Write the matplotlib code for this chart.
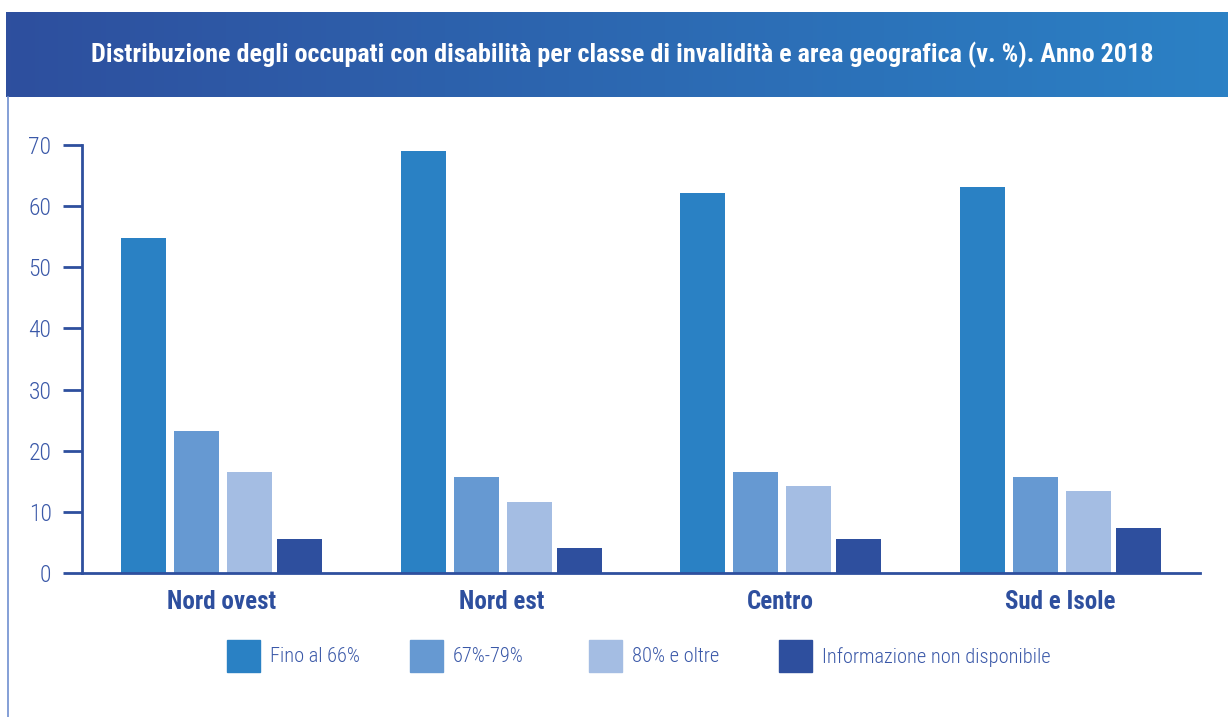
import numpy as np
import matplotlib
matplotlib.use("Agg")
from matplotlib import pyplot as plt
from matplotlib import font_manager
from matplotlib.patches import Rectangle
from matplotlib.lines import Line2D

# pick a narrow sans if the machine has one
font = "Liberation Sans"
for name in ["Roboto Condensed", "Liberation Sans Narrow", "Liberation Sans"]:
    try:
        font_manager.findfont(name, fallback_to_default=False)
        font = name
        break
    except ValueError:
        pass
plt.rcParams['font.family'] = [font, 'DejaVu Sans']

aree = ["Nord ovest", "Nord est", "Centro", "Sud e Isole"]
classi = ["Fino al 66%", "67%-79%", "80% e oltre", "Informazione non disponibile"]
fino_66 = [54.8, 69.0, 62.2, 63.1]
da_67_a_79 = [23.2, 15.7, 16.5, 15.7]
oltre_80 = [16.5, 11.6, 14.2, 13.4]
non_disp = [5.6, 4.1, 5.6, 7.4]
yticks = [0, 10, 20, 30, 40, 50, 60, 70]

valori = [fino_66, da_67_a_79, oltre_80, non_disp]
colori = ["#2A81C4", "#6699D2", "#A4BDE3", "#2E4F9E"]
blu = "#2E4F9E"
testo = "#3A58A8"

W, H = 1228, 717
fig = plt.figure(figsize=(W / 100, H / 100), dpi=100)

# header band with a left-to-right gradient
band = fig.add_axes([6 / W, 1 - 97 / H, 1 - 6 / W, 85 / H])
grad = np.linspace(0, 1, 256).reshape(1, -1)
cmap = matplotlib.colors.LinearSegmentedColormap.from_list("band", ["#2E4F9E", "#2B81C5"])
band.imshow(grad, aspect="auto", cmap=cmap, extent=[0, 1, 0, 1])
band.set_axis_off()
band.text(0.5045, 0.5, "Distribuzione degli occupati con disabilità per classe di invalidità e area geografica (v. %). Anno 2018",
          color="white", fontsize=18.8, fontweight="bold", ha="center", va="center")

# thin frame line on the left
fig.add_artist(Line2D([7.5 / W, 7.5 / W], [0, 1 - 97 / H], color="#6F8FD0", lw=1.2))

ax = fig.add_axes([82 / W, 1 - 573 / H, (1200 - 82) / W, (573 - 145) / H])
x = np.arange(len(aree))
offsets = [-78, -25, 28, 78]
for serie, col, off in zip(valori, colori, offsets):
    ax.bar(x + off / 279.5, serie, width=45 / 279.5, color=col, zorder=2)

ax.set_xlim(-0.5, 3.5)
ax.set_ylim(0, 70)
ax.set_yticks(yticks)
ax.set_xticks(x)
ax.set_xticklabels(aree, fontsize=18, fontweight="bold", color=blu)
for s in ["top", "right"]:
    ax.spines[s].set_visible(False)
for s in ["left", "bottom"]:
    ax.spines[s].set_color(blu)
    ax.spines[s].set_linewidth(2)
ax.tick_params(axis="y", length=14, width=2, color=blu, labelcolor=testo, labelsize=17, pad=8)
for t in ax.get_yticklabels():
    t.set_fontweight("light")
ax.tick_params(axis="x", length=0, pad=12)

# legend row
sq_x = [227, 410, 589, 779]
for lab, col, px in zip(classi, colori, sq_x):
    fig.add_artist(Rectangle((px / W, 1 - 672 / H), 33 / W, 32 / H, color=col, transform=fig.transFigure))
    fig.text((px + 43) / W, 1 - 657 / H, lab, color=testo, fontsize=14.7, fontweight="light",
             va="center", ha="left")

fig.savefig("out.png", dpi=100)
